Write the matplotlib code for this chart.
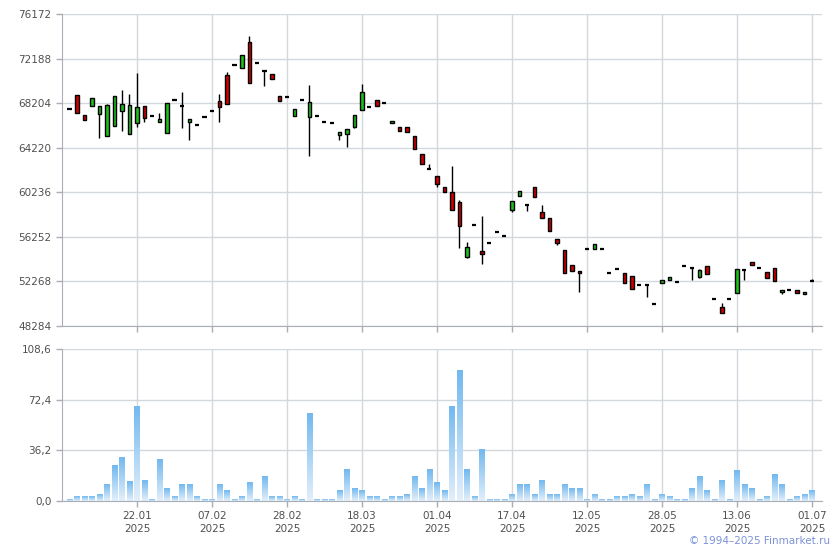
import numpy as np
import matplotlib
matplotlib.use("Agg")
import matplotlib.pyplot as plt
from matplotlib.patches import Rectangle
from matplotlib.colors import LinearSegmentedColormap

# ---------------------------------------------------------------------
# Daily OHLC (one candle per trading session) and volume
# ---------------------------------------------------------------------
opens = [67680, 68960, 67170, 67950, 67230, 65230, 66160, 67460, 65470, 66430,
         67950, 67080, 66480, 65530, 68480, 67970, 66480, 66280, 66960, 67530,
         68420, 70720, 71640, 71340, 73670, 71790, 71040, 70810, 68840, 68750,
         67050, 68480, 66960, 67050, 66540, 66430, 65350, 65440, 66070, 67590,
         67860, 68480, 68220, 66430, 66070, 66070, 65270, 63680, 62320, 61690,
         60710, 60260, 59360, 54450, 57310, 54980, 55700, 56680, 56330, 58650,
         59900, 59060, 60730, 58470, 57930, 56060, 55070, 53730, 53200, 55160,
         55160, 55160, 53020, 53380, 53020, 52750, 51910, 51940, 50270, 52120,
         52390, 52210, 53670, 53460, 52660, 53640, 50690, 49980, 50690, 51230,
         53290, 54000, 53460, 53110, 53460, 51320, 51500, 51500, 51140, 52300]
highs = [67680, 68960, 67170, 68660, 67950, 68150, 68870, 69400, 69050, 70920,
         67950, 67080, 67320, 68210, 68480, 69200, 66790, 66280, 66960, 67530,
         69020, 71010, 71640, 72510, 74230, 71790, 71040, 70810, 68840, 68750,
         67680, 68480, 69850, 67050, 66540, 66430, 65620, 65890, 67140, 69940,
         67860, 68480, 68220, 66610, 66070, 66070, 65270, 63680, 62790, 61690,
         60710, 62610, 59570, 55790, 57310, 58140, 55700, 56680, 56330, 59450,
         60350, 59060, 60730, 59120, 57930, 56060, 55070, 53730, 53200, 55160,
         55610, 55160, 53020, 53380, 53020, 52750, 51910, 51940, 50270, 52390,
         52660, 52210, 53670, 53460, 53380, 53640, 50690, 50340, 50690, 53380,
         53290, 54000, 53460, 53110, 53460, 51500, 51500, 51500, 51320, 52480]
lows = [67680, 67290, 66700, 67950, 65090, 65230, 66160, 65680, 65470, 66030,
        66520, 67080, 66480, 65530, 68480, 65980, 64870, 66280, 66960, 67530,
        66480, 68130, 71640, 71340, 70000, 71790, 69700, 70360, 68390, 68750,
        67050, 68480, 63440, 67050, 66540, 66430, 64930, 64280, 65940, 67590,
        67860, 67950, 68220, 66430, 65710, 65620, 64100, 62760, 62320, 60710,
        60260, 58650, 55250, 54360, 57310, 53820, 55700, 56680, 56330, 58440,
        59900, 58520, 59810, 57930, 56770, 55520, 53020, 53200, 51320, 55160,
        55160, 55160, 53020, 53380, 52120, 51590, 51910, 50870, 50270, 52120,
        52390, 52210, 53670, 52390, 52570, 52930, 50690, 49440, 50690, 51230,
        52390, 53730, 53460, 52570, 52300, 51140, 51500, 51230, 51140, 52300]
closes = [67680, 67290, 66700, 68660, 67950, 68000, 68800, 68150, 68060, 67860,
          66840, 67080, 66790, 68210, 68480, 67970, 66790, 66280, 66960, 67530,
          67820, 68130, 71640, 72510, 70000, 71790, 71040, 70360, 68390, 68750,
          67680, 68480, 68300, 67050, 66540, 66430, 65620, 65890, 67140, 69200,
          67860, 67950, 68220, 66610, 65710, 65620, 64100, 62760, 62320, 60970,
          60260, 58650, 57250, 55340, 57310, 54720, 55700, 56680, 56330, 59450,
          60350, 59060, 59810, 57930, 56770, 55700, 53020, 53200, 53020, 55160,
          55610, 55160, 53020, 53380, 52120, 51590, 51910, 51940, 50270, 52390,
          52660, 52210, 53670, 53460, 53290, 52930, 50690, 49440, 50690, 53380,
          53290, 53730, 53460, 52570, 52300, 51500, 51500, 51230, 51320, 52300]
volumes = [1.4, 2.9, 2.9, 2.9, 5.0, 11.5, 25.1, 31.5, 14.3, 68.0,
           15.0, 1.4, 29.4, 9.3, 2.9, 11.5, 11.5, 2.9, 1.4, 1.4,
           11.5, 7.2, 1.4, 2.9, 12.9, 1.4, 17.2, 2.9, 2.9, 1.4,
           2.9, 1.4, 63.0, 1.4, 1.4, 1.4, 7.2, 22.9, 9.3, 7.2,
           2.9, 2.9, 1.4, 2.9, 2.9, 5.0, 17.2, 9.3, 22.9, 12.9,
           7.2, 67.3, 93.1, 22.9, 2.9, 37.2, 1.4, 1.4, 1.4, 5.0,
           11.5, 11.5, 5.0, 15.0, 5.0, 5.0, 11.5, 9.3, 9.3, 1.4,
           5.0, 1.4, 1.4, 2.9, 2.9, 5.0, 2.9, 11.5, 1.4, 5.0,
           2.9, 1.4, 1.4, 9.3, 17.2, 7.2, 1.4, 15.0, 1.4, 21.5,
           11.5, 9.3, 1.4, 2.9, 19.3, 11.5, 1.4, 2.9, 5.0, 7.2]

date_tick_idx = [9, 19, 29, 39, 49, 59, 69, 79, 89, 99]
date_tick_labels = ["22.01\n2025", "07.02\n2025", "28.02\n2025", "18.03\n2025",
                    "01.04\n2025", "17.04\n2025", "12.05\n2025", "28.05\n2025",
                    "13.06\n2025", "01.07\n2025"]
price_ticks = [48284, 52268, 56252, 60236, 64220, 68204, 72188, 76172]
vol_ticks = [0.0, 36.2, 72.4, 108.6]
vol_tick_labels = ["0,0", "36,2", "72,4", "108,6"]

# ---------------------------------------------------------------------
GRID = "#d3d8dd"
SPINE = "#a9adb5"
TXT = "#505050"
UP = "#1cc01c"
DOWN = "#cc0000"

plt.rcParams["font.family"] = ["DejaVu Sans"]

fig = plt.figure(figsize=(8.4, 5.5), dpi=100)
ax = fig.add_axes([0.0738, 0.4073, 0.9044, 0.5672])
axv = fig.add_axes([0.0738, 0.0891, 0.9044, 0.2758])

xlim = (-1.0, 100.3)

for a in (ax, axv):
    a.set_xlim(*xlim)
    a.set_xticks(date_tick_idx)
    a.grid(True, color=GRID, linewidth=1)
    a.set_axisbelow(True)
    for s in ("top", "right"):
        a.spines[s].set_visible(False)
    for s in ("left", "bottom"):
        a.spines[s].set_color(SPINE)
    a.tick_params(colors=SPINE, labelcolor=TXT, labelsize=7.5, length=4, width=1)

# --- candles ---
for i in range(len(opens)):
    o, h, l, c = opens[i], highs[i], lows[i], closes[i]
    if h > l:
        ax.vlines(i, l, h, color="black", linewidth=1, zorder=2)
    if o == c:
        ax.hlines(o, i - 0.27, i + 0.27, color="black", linewidth=1.6, zorder=3)
    else:
        col = UP if c > o else DOWN
        ax.add_patch(Rectangle((i - 0.21, min(o, c)), 0.42, abs(c - o),
                               facecolor=col, edgecolor="black", linewidth=1, zorder=3))

ax.set_ylim(price_ticks[0], price_ticks[-1])
ax.set_yticks(price_ticks)
ax.set_yticklabels([str(t) for t in price_ticks])
ax.set_xticklabels([])

# --- volume bars with vertical gradient ---
grad_cmap = LinearSegmentedColormap.from_list("vol", ["#e3effb", "#72b9ef"])
grad = np.linspace(0, 1, 64).reshape(-1, 1)
for i, v in enumerate(volumes):
    axv.imshow(grad, extent=(i - 0.38, i + 0.38, 0, v), origin="lower",
               cmap=grad_cmap, aspect="auto", interpolation="bilinear", zorder=2)

axv.set_xlim(*xlim)
axv.set_ylim(0, 108.6)
axv.set_yticks(vol_ticks)
axv.set_yticklabels(vol_tick_labels)
axv.set_xticklabels(date_tick_labels, linespacing=1.35)
axv.tick_params(axis="x", pad=3)

fig.text(0.988, 0.008, "© 1994–2025 Finmarket.ru", ha="right", va="bottom",
         fontsize=7.5, color="#7c92d8")

fig.savefig("out.png", dpi=100)
